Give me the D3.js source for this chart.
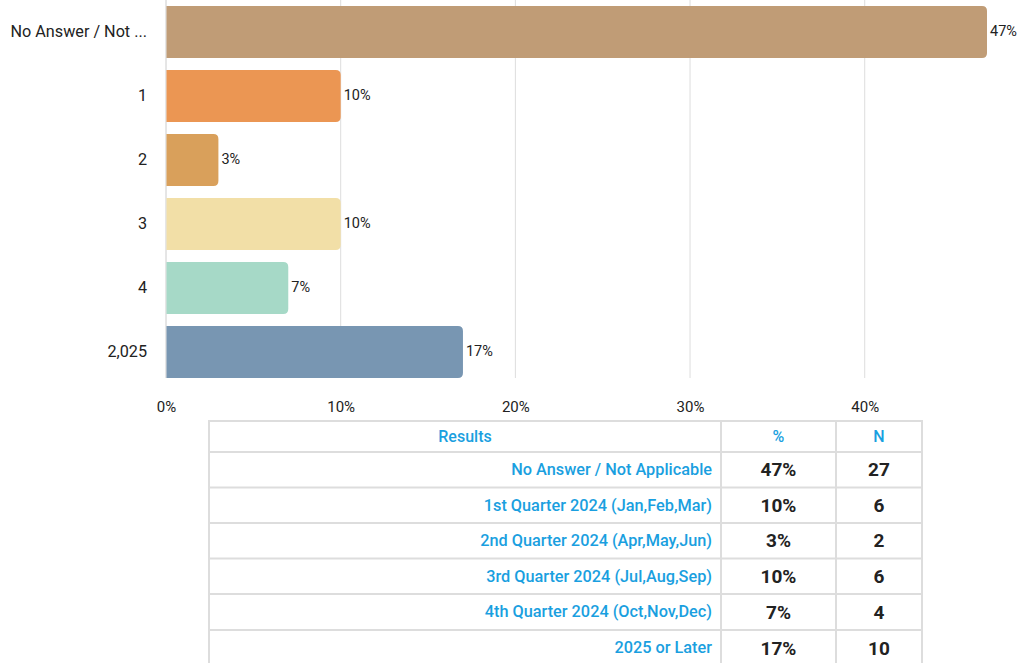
<!DOCTYPE html>
<html>
<head>
<meta charset="utf-8">
<script src="https://cdn.jsdelivr.net/npm/d3@7"></script>
<style>
  body { margin: 0; background: #fff; font-family: Roboto, "Noto Sans", sans-serif; }
</style>
</head>
<body>
<div id="plot"></div>
<script>
// chart data
const barLabels = ["No Answer / Not ...", "1", "2", "3", "4", "2,025"];
const pctValues = [47, 10, 3, 10, 7, 17];
const barColors = ["#c09c76", "#eb9653", "#d9a05b", "#f2dfa7", "#a6d9c7", "#7896b2"];
const xTicks = [0, 10, 20, 30, 40];

// table data
const tableHeaders = ["Results", "%", "N"];
const resultNames = ["No Answer / Not Applicable", "1st Quarter 2024 (Jan,Feb,Mar)", "2nd Quarter 2024 (Apr,May,Jun)",
  "3rd Quarter 2024 (Jul,Aug,Sep)", "4th Quarter 2024 (Oct,Nov,Dec)", "2025 or Later"];
const counts = [27, 6, 2, 6, 4, 10];

const width = 1023, height = 663;
const margin = { top: 0, left: 166, right: 35, bottom: 285 };

const svg = d3.select("#plot").append("svg")
  .attr("width", width)
  .attr("height", height)
  .style("background-color", "white");

const xScale = d3.scaleLinear()
  .domain([0, 47])
  .range([margin.left, 987]);

const yScale = d3.scaleBand()
  .domain(barLabels)
  .range([0, 384])
  .paddingInner(12 / 64)
  .paddingOuter(6 / 64);

// gridlines
svg.append("g")
  .selectAll("line")
  .data(xTicks)
  .join("line")
  .attr("x1", d => xScale(d)).attr("x2", d => xScale(d))
  .attr("y1", 0).attr("y2", 378)
  .attr("stroke", d => d === 0 ? "#cccccc" : "#dddddd")
  .attr("stroke-width", 1);

// x tick labels
const xAxis = d3.axisBottom(xScale).tickValues(xTicks).tickFormat(d => d + "%").tickSize(0).tickPadding(0);
const xg = svg.append("g").attr("transform", "translate(0,401)").call(xAxis);
xg.select(".domain").remove();
xg.selectAll("text").attr("font-size", 15).attr("fill", "#222").attr("font-family", "Roboto");

// y axis labels
const yAxis = d3.axisLeft(yScale).tickSize(0).tickPadding(19);
const yg = svg.append("g").attr("transform", `translate(${margin.left},0)`).call(yAxis);
yg.select(".domain").remove();
yg.selectAll("text").attr("font-size", 16.2).attr("fill", "#222").attr("font-family", "Roboto");

// bars with rounded right ends
const r = 5;
function barPath(x0, x1, y, h) {
  const w = x1 - x0;
  const rr = Math.min(r, w);
  return `M${x0},${y}H${x1 - rr}Q${x1},${y} ${x1},${y + rr}V${y + h - rr}Q${x1},${y + h} ${x1 - rr},${y + h}H${x0}Z`;
}

svg.append("g")
  .selectAll("path")
  .data(barLabels)
  .join("path")
  .attr("d", (d, i) => barPath(xScale(0) + 0.5, xScale(pctValues[i]), yScale(d), yScale.bandwidth()))
  .attr("fill", (d, i) => barColors[i]);

svg.append("g")
  .selectAll("text")
  .data(barLabels)
  .join("text")
  .attr("x", (d, i) => xScale(pctValues[i]) + 3)
  .attr("y", d => yScale(d) + yScale.bandwidth() / 2)
  .attr("dy", "0.3em")
  .attr("font-size", 14.5)
  .attr("fill", "#222")
  .text((d, i) => pctValues[i] + "%");

// table
const colX = [209, 721, 836, 922];
const rowY = [421, 452, 487.5, 523, 558.5, 594, 630, 666];
const tbl = svg.append("g");
const border = "#dddddd";

tbl.selectAll("line.h")
  .data(rowY.slice(0, 7))
  .join("line")
  .attr("class", "h")
  .attr("x1", colX[0]).attr("x2", colX[3])
  .attr("y1", d => d).attr("y2", d => d)
  .attr("stroke", border).attr("stroke-width", 2);

tbl.selectAll("line.v")
  .data(colX)
  .join("line")
  .attr("class", "v")
  .attr("x1", d => d).attr("x2", d => d)
  .attr("y1", rowY[0] - 1).attr("y2", height)
  .attr("stroke", border).attr("stroke-width", 2);

// header
tbl.selectAll("text.hd")
  .data(tableHeaders)
  .join("text")
  .attr("class", "hd")
  .attr("x", (d, i) => (colX[i] + colX[i + 1]) / 2)
  .attr("y", (rowY[0] + rowY[1]) / 2)
  .attr("dy", "0.35em")
  .attr("text-anchor", "middle")
  .attr("font-size", 16)
  .attr("font-weight", 500)
  .attr("fill", "#1a9fe0")
  .text(d => d);

// body rows
const rows = tbl.selectAll("g.row")
  .data(resultNames)
  .join("g")
  .attr("class", "row")
  .attr("transform", (d, i) => `translate(0,${(rowY[i + 1] + rowY[i + 2]) / 2})`);

rows.append("text")
  .attr("x", colX[1] - 9)
  .attr("dy", "0.33em")
  .attr("text-anchor", "end")
  .attr("font-size", 16.3)
  .attr("font-weight", 500)
  .attr("fill", "#1a9fe0")
  .text(d => d);

rows.append("text")
  .attr("x", (colX[1] + colX[2]) / 2)
  .attr("dy", "0.35em")
  .attr("text-anchor", "middle")
  .attr("font-size", 19)
  .attr("font-weight", "bold")
  .attr("fill", "#222")
  .text((d, i) => pctValues[i] + "%");

rows.append("text")
  .attr("x", (colX[2] + colX[3]) / 2)
  .attr("dy", "0.35em")
  .attr("text-anchor", "middle")
  .attr("font-size", 19)
  .attr("font-weight", "bold")
  .attr("fill", "#222")
  .text((d, i) => counts[i]);
</script>
</body>
</html>
